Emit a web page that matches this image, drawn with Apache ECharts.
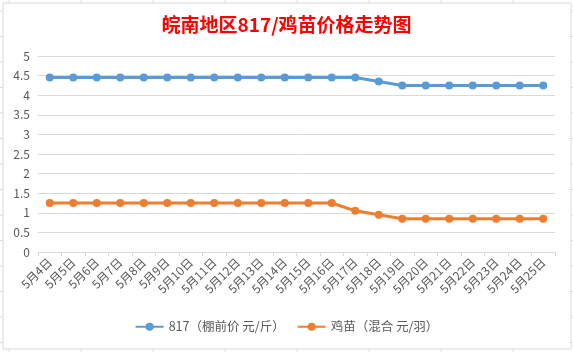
<!DOCTYPE html>
<html>
<head>
<meta charset="utf-8">
<script src="https://cdn.jsdelivr.net/npm/echarts@6/dist/echarts.min.js"></script>
<style>
  html, body { margin: 0; padding: 0; background: #fff; }
  #chart { width: 573px; height: 352px; }
</style>
</head>
<body>
<div id="chart"></div>
<script>
const days = ['5月4日', '5月5日', '5月6日', '5月7日', '5月8日', '5月9日', '5月10日', '5月11日',
  '5月12日', '5月13日', '5月14日', '5月15日', '5月16日', '5月17日', '5月18日', '5月19日',
  '5月20日', '5月21日', '5月22日', '5月23日', '5月24日', '5月25日']
const price817 = [4.45, 4.45, 4.45, 4.45, 4.45, 4.45, 4.45, 4.45, 4.45, 4.45, 4.45, 4.45, 4.45, 4.45,
  4.35, 4.25, 4.25, 4.25, 4.25, 4.25, 4.25, 4.25]
const chick = [1.25, 1.25, 1.25, 1.25, 1.25, 1.25, 1.25, 1.25, 1.25, 1.25, 1.25, 1.25, 1.25,
  1.05, 0.95, 0.85, 0.85, 0.85, 0.85, 0.85, 0.85, 0.85]

const font = '"Noto Sans CJK SC", sans-serif'
const gridGray = '#d9d9d9'

// spreadsheet cell lines peeking out around the chart frame
const sheet = []
for (let x = 9; x < 573; x += 72) {
  sheet.push({ type: 'line', shape: { x1: x, y1: 0, x2: x, y2: 3 }, style: { stroke: gridGray } })
  sheet.push({ type: 'line', shape: { x1: x, y1: 349, x2: x, y2: 352 }, style: { stroke: gridGray } })
}
for (let y = 11; y < 352; y += 25.5) {
  sheet.push({ type: 'line', shape: { x1: 0, y1: y, x2: 3, y2: y }, style: { stroke: gridGray } })
  sheet.push({ type: 'line', shape: { x1: 571, y1: y, x2: 573, y2: y }, style: { stroke: gridGray } })
}
sheet.push({ type: 'rect', shape: { x: 3, y: 3, width: 568, height: 346 },
  style: { fill: 'none', stroke: gridGray, lineWidth: 1 }, z: -1 })

const chart = echarts.init(document.getElementById('chart'), null, { renderer: 'canvas' })
chart.setOption({
  animation: false,
  backgroundColor: '#fff',
  graphic: sheet,
  title: {
    text: '皖南地区817/鸡苗价格走势图',
    left: 'center',
    top: 10,
    textStyle: { color: '#ff0000', fontSize: 19, fontWeight: 'bold', fontFamily: font }
  },
  legend: {
    bottom: 14,
    left: 'center',
    itemWidth: 28,
    itemHeight: 10,
    itemGap: 12,
    textStyle: { color: '#595959', fontSize: 12.5, fontFamily: font }
  },
  grid: { left: 38, right: 18, top: 56, bottom: 100 },
  xAxis: {
    type: 'category',
    data: days,
    boundaryGap: true,
    axisLine: { lineStyle: { color: gridGray } },
    axisTick: { show: true, length: 4, lineStyle: { color: gridGray } },
    axisLabel: { rotate: 45, interval: 0, color: '#595959', fontSize: 12, fontFamily: font, margin: 8 }
  },
  yAxis: {
    type: 'value',
    min: 0,
    max: 5,
    interval: 0.5,
    axisLine: { show: false },
    axisTick: { show: false },
    splitLine: { lineStyle: { color: gridGray } },
    axisLabel: { color: '#595959', fontSize: 12, fontFamily: font, margin: 8 }
  },
  series: [
    {
      name: '817（棚前价 元/斤）',
      type: 'line',
      data: price817,
      symbol: 'circle',
      symbolSize: 8,
      lineStyle: { width: 3, color: '#5b9bd5' },
      itemStyle: { color: '#5b9bd5' }
    },
    {
      name: '鸡苗（混合 元/羽）',
      type: 'line',
      data: chick,
      symbol: 'circle',
      symbolSize: 8,
      lineStyle: { width: 3, color: '#ed7d31' },
      itemStyle: { color: '#ed7d31' }
    }
  ]
})
</script>
</body>
</html>
